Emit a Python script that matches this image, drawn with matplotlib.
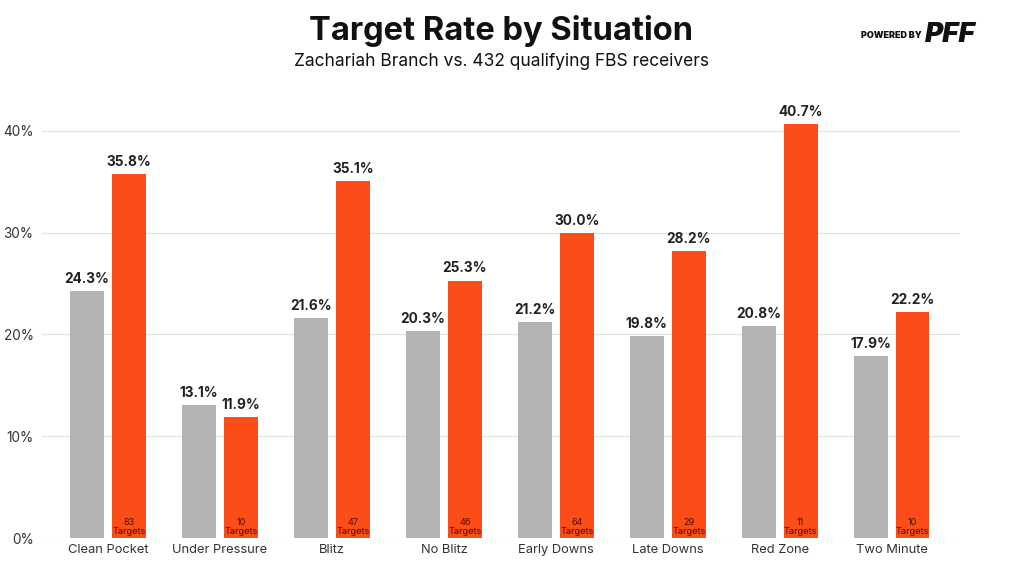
import matplotlib
matplotlib.use("Agg")
import matplotlib.pyplot as plt
import numpy as np

categories = ["Clean Pocket", "Under Pressure", "Blitz", "No Blitz", "Early Downs", "Late Downs", "Red Zone", "Two Minute"]
fbs_avg = [24.3, 13.1, 21.6, 20.3, 21.2, 19.8, 20.8, 17.9]
branch = [35.8, 11.9, 35.1, 25.3, 30.0, 28.2, 40.7, 22.2]
targets = [83, 10, 47, 46, 64, 29, 11, 10]
yticks = [0, 10, 20, 30, 40]

plt.rcParams['font.family'] = ['Inter', 'DejaVu Sans']

fig = plt.figure(figsize=(10.24, 5.71), dpi=100)
ax = fig.add_axes([42/1024, 33/571, 918/1024, 458/571])

gray = "#b3b3b3"
orange = "#fc4c17"
x = np.arange(len(categories))
w = 0.30
off = 0.1875
ax.bar(x - off, fbs_avg, width=w, color=gray, zorder=3)
ax.bar(x + off, branch, width=w, color=orange, zorder=3)

for i in range(len(categories)):
    ax.text(x[i] - off, fbs_avg[i] + 0.5, f"{fbs_avg[i]:.1f}%", ha="center", va="bottom",
            fontsize=9.8, fontweight="bold", color="#222222")
    ax.text(x[i] + off, branch[i] + 0.5, f"{branch[i]:.1f}%", ha="center", va="bottom",
            fontsize=9.8, fontweight="bold", color="#222222")
    ax.text(x[i] + off, 0.15, f"{targets[i]}\nTargets", ha="center", va="bottom",
            fontsize=6.6, color="#4a1404", linespacing=1.0, zorder=4)

ax.set_xlim(-0.59, 7.61)
ax.set_ylim(0, 45)
ax.set_yticks(yticks)
ax.set_yticklabels([f"{v}%" for v in yticks])
ax.set_xticks(x)
ax.set_xticklabels(categories)
ax.tick_params(axis="both", length=0, labelsize=9.3, colors="#333333")
ax.tick_params(axis="y", labelsize=9.8, pad=6)
ax.tick_params(axis="x", pad=4)
ax.grid(axis="y", color="#e2e2e2", linewidth=0.9, zorder=0)
for s in ax.spines.values():
    s.set_visible(False)

fig.text(501/1024, 1 - 31/571, "Target Rate by Situation", ha="center", va="center",
         fontsize=23.5, fontweight="bold", color="#111111")
fig.text(501/1024, 1 - 62/571, "Zachariah Branch vs. 432 qualifying FBS receivers", ha="center", va="center",
         fontsize=12.5, color="#111111")

fig.text(922/1024, 1 - 35/571, "POWERED BY", ha="right", va="center", fontsize=6.5,
         fontweight="black", color="#111111")
fig.text(925/1024, 1 - 35/571, "PFF", ha="left", va="center", fontsize=20,
         fontweight="black", fontstyle="italic", color="#111111")

fig.savefig("out.png", dpi=100)
